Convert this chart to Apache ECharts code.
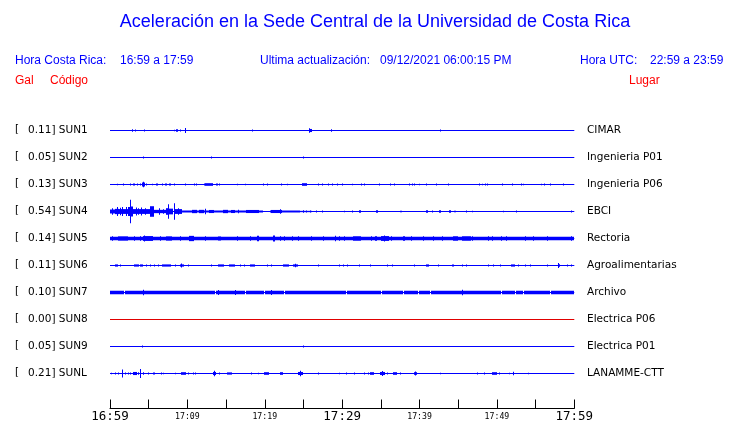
<!DOCTYPE html>
<html><head><meta charset="utf-8">
<script src="https://cdn.jsdelivr.net/npm/echarts@6/dist/echarts.min.js"></script>
<style>html,body{margin:0;padding:0;background:#fff}#c{width:740px;height:423px}</style>
</head><body><div id="c"></div>
<script>
// ---------- DATA ----------
const codes = ['SUN1','SUN2','SUN3','SUN4','SUN5','SUN6','SUN7','SUN8','SUN9','SUNL'];
const maxGal = ['0.11','0.05','0.13','0.54','0.14','0.11','0.10','0.00','0.05','0.21'];
const places = ['CIMAR','Ingenieria P01','Ingenieria P06','EBCI','Rectoria','Agroalimentarias','Archivo','Electrica P06','Electrica P01','LANAMME-CTT'];
const tickLabels = ['16:59','','17:09','','17:19','','17:29','','17:39','','17:49','','17:59'];
// events: [start minute, end minute, half-amplitude in Gal]  (minutes after 16:59)
const sun1 = [[2.9,2.9,0.06],[3.3,3.3,0.05],[4.4,4.4,0.05],[8.3,8.3,0.03],[8.6,8.8,0.06],[9.1,9.1,0.05],[9.7,9.7,0.11],[18.4,18.4,0.04],[25.8,26.1,0.07],[25.8,25.8,0.1],[28.6,28.6,0.06],[42.7,42.7,0.05]];
const sun2 = [[4.3,4.45,0.05],[13.1,13.1,0.05],[25.0,25.0,0.05]];
const sun3 = [[1.0,1.0,0.03],[1.7,1.8,0.04],[2.7,2.7,0.04],[3.05,3.2,0.05],[3.5,3.5,0.04],[3.9,3.9,0.04],[4.2,4.5,0.09],[4.3,4.3,0.13],[4.7,4.7,0.05],[5.5,5.5,0.03],[6.0,6.15,0.04],[6.8,6.8,0.04],[7.2,7.35,0.05],[7.75,7.85,0.05],[8.3,8.3,0.05],[9.7,9.7,0.04],[10.9,10.9,0.05],[11.2,11.2,0.05],[12.2,12.2,0.04],[12.4,13.3,0.06],[13.8,13.95,0.05],[14.1,14.1,0.05],[16.5,16.5,0.03],[17.5,17.5,0.03],[19.8,19.8,0.04],[20.3,20.3,0.05],[22.1,22.1,0.04],[22.9,22.9,0.03],[24.9,25.4,0.06],[26.9,26.9,0.04],[27.5,27.5,0.05],[28.2,28.2,0.04],[28.8,28.8,0.04],[29.4,29.4,0.04],[30.0,30.0,0.04],[31.3,31.3,0.03],[32.5,32.5,0.05],[32.9,32.9,0.05],[34.8,34.8,0.04],[36.3,36.3,0.05],[36.8,36.8,0.05],[38.7,38.7,0.05],[39.1,39.1,0.05],[39.4,39.4,0.05],[40.0,40.0,0.03],[40.9,40.9,0.05],[42.2,42.2,0.04],[43.8,43.8,0.05],[47.8,47.8,0.04],[48.1,48.1,0.03],[48.5,48.5,0.05],[48.8,48.8,0.05],[50.7,50.7,0.05],[52.0,52.0,0.05],[53.2,53.2,0.05],[53.4,53.4,0.03],[55.8,55.8,0.03],[56.2,56.2,0.04],[56.9,56.9,0.04],[58.6,58.6,0.05]];
const sun4 = [[0,0.65,0.09],[0.3,0.3,0.15],[0.65,1.1,0.12],[0.95,0.95,0.21],[1.1,2.4,0.11],[1.3,1.3,0.17],[1.64,1.64,0.2],[2.07,2.07,0.2],[2.45,2.55,0.2],[2.65,2.65,0.53],[2.8,3.0,0.23],[3.0,5.17,0.11],[3.36,3.36,0.18],[3.7,3.7,0.15],[4.1,4.1,0.18],[4.6,4.6,0.15],[5.17,5.69,0.24],[5.69,7.33,0.075],[6.38,6.38,0.15],[6.9,6.9,0.1],[7.33,7.67,0.15],[7.54,7.54,0.33],[7.67,8.19,0.13],[8.28,8.28,0.38],[8.4,9.27,0.11],[8.9,8.9,0.15],[9.27,19.8,0.045],[10.6,11.2,0.075],[11.6,12.1,0.075],[12.4,12.4,0.12],[12.9,13.4,0.07],[14.7,15.3,0.075],[15.7,16.2,0.07],[16.6,16.6,0.08],[17.7,19.2,0.07],[20.7,24.6,0.045],[20.9,22.2,0.07],[22.0,22.0,0.1],[24.6,26.1,0.03],[25.0,25.0,0.06],[25.4,25.4,0.05],[25.9,25.9,0.05],[26.7,26.7,0.04],[27.4,27.4,0.04],[30.3,30.3,0.03],[31.3,31.3,0.04],[32.3,32.5,0.06],[34.4,34.6,0.06],[37.6,37.6,0.03],[37.7,37.7,0.03],[40.9,41.1,0.06],[41.7,41.7,0.04],[42.6,42.8,0.06],[43.9,44.1,0.06],[44.5,44.5,0.03],[44.7,44.7,0.03],[46.1,46.1,0.04],[46.9,46.9,0.03],[50.9,50.9,0.03],[52.5,52.5,0.04],[59.6,59.6,0.04]];
const sun5 = [[0,60,0.075],[0.3,0.3,0.1],[1.08,2.37,0.095],[3.2,3.2,0.1],[3.9,3.9,0.1],[4.3,5.6,0.11],[4.5,4.5,0.14],[6.5,6.5,0.1],[7.3,8.0,0.095],[9.05,9.05,0.1],[10.3,10.8,0.12],[12.3,12.3,0.1],[14.0,14.4,0.09],[16.5,16.5,0.1],[18.1,18.1,0.1],[19.0,19.2,0.12],[21.1,21.3,0.14],[22.0,22.0,0.1],[22.6,22.6,0.1],[23.6,23.6,0.1],[24.4,24.4,0.1],[26.1,26.1,0.1],[27.6,27.6,0.1],[29.1,29.1,0.12],[29.7,29.7,0.1],[30.3,30.3,0.1],[31.5,32.5,0.1],[33.8,33.8,0.1],[34.3,34.5,0.1],[35.1,36.0,0.11],[35.5,35.5,0.14],[36.4,36.4,0.1],[37.9,37.9,0.1],[38.1,38.1,0.1],[39.0,39.0,0.1],[40.5,40.5,0.1],[41.8,41.8,0.1],[43.0,43.0,0.1],[44.4,45.0,0.1],[45.6,46.6,0.1],[46.8,46.8,0.1],[48.9,48.9,0.1],[49.4,49.4,0.1],[50.6,50.6,0.1],[51.3,51.3,0.1],[53.7,53.7,0.1],[54.7,54.7,0.1],[56.5,56.5,0.1],[59.7,59.7,0.1]];
const sun6 = [[0.65,1.0,0.05],[1.3,1.3,0.05],[3.2,3.7,0.05],[3.9,4.3,0.05],[4.7,4.7,0.05],[5.2,5.2,0.05],[5.7,5.7,0.05],[6.25,6.25,0.05],[6.8,7.9,0.05],[8.4,8.4,0.05],[9.05,9.5,0.05],[9.2,9.2,0.09],[10.1,10.1,0.05],[13.1,13.1,0.04],[14.0,14.7,0.05],[15.4,16.2,0.05],[16.8,16.8,0.05],[17.4,17.4,0.04],[18.1,18.75,0.05],[20.3,20.3,0.05],[20.9,20.9,0.05],[22.4,23.1,0.05],[23.7,24.3,0.05],[24.0,24.0,0.08],[26.9,26.9,0.05],[29.7,29.7,0.04],[30.2,30.2,0.05],[30.7,30.7,0.04],[32.3,32.3,0.05],[33.6,33.6,0.05],[35.9,35.9,0.05],[36.5,36.5,0.04],[39.4,39.4,0.04],[40.9,41.2,0.05],[42.5,42.5,0.04],[44.2,44.4,0.05],[45.5,45.5,0.05],[46.1,46.1,0.04],[48.9,48.9,0.05],[49.6,49.6,0.05],[50.4,50.4,0.05],[51.9,52.4,0.05],[52.8,52.8,0.05],[53.7,53.7,0.05],[54.3,54.3,0.05],[56.5,56.5,0.04],[57.9,58.1,0.06],[58.0,58.0,0.11],[59.1,59.1,0.05],[59.6,59.6,0.05]];
const sun7 = [[0,1.85,0.08],[2.0,13.55,0.08],[13.7,17.45,0.08],[17.6,19.95,0.08],[20.1,22.55,0.08],[22.7,25.15,0.08],[25.3,28.65,0.08],[28.8,30.55,0.08],[30.7,35.05,0.08],[35.2,37.85,0.08],[38.0,39.85,0.08],[40.0,41.35,0.08],[41.5,43.25,0.08],[43.4,44.95,0.08],[45.1,46.75,0.08],[46.9,50.55,0.08],[50.7,52.35,0.08],[52.5,53.35,0.08],[53.5,55.15,0.08],[55.3,56.85,0.08],[57.0,59.9,0.08],[4.3,4.3,0.12],[14.0,14.0,0.11],[16.2,16.2,0.11],[20.9,20.9,0.11],[45.6,45.6,0.12]];
const sun8 = [];
const sun9 = [[4.15,4.3,0.05],[25.0,25.0,0.05]];
const sunl = [[0.2,0.2,0.03],[0.7,0.7,0.04],[1.1,1.1,0.05],[1.6,1.6,0.18],[2.0,2.0,0.05],[2.4,2.4,0.04],[2.7,2.7,0.05],[3.0,3.45,0.07],[3.7,3.7,0.06],[4.0,4.0,0.21],[4.3,4.3,0.06],[5.0,5.0,0.04],[5.6,5.8,0.05],[6.6,6.6,0.04],[6.9,6.9,0.03],[8.4,8.4,0.03],[9.2,9.8,0.06],[10.1,10.1,0.05],[10.8,10.8,0.04],[11.1,11.1,0.04],[13.4,13.7,0.07],[13.5,13.5,0.12],[14.2,14.2,0.04],[15.2,15.8,0.05],[18.3,18.3,0.04],[19.2,19.2,0.03],[20.0,20.5,0.06],[22.0,22.3,0.06],[24.4,25.0,0.07],[24.6,24.6,0.12],[26.9,26.9,0.05],[29.7,29.7,0.03],[30.5,30.5,0.04],[31.6,31.6,0.04],[32.9,32.9,0.04],[33.4,33.4,0.04],[33.7,34.1,0.06],[35.0,35.6,0.07],[35.2,35.2,0.11],[35.9,35.9,0.04],[36.6,37.1,0.06],[37.6,37.6,0.04],[39.4,39.7,0.06],[39.5,39.5,0.09],[42.7,42.7,0.03],[47.5,47.5,0.04],[48.4,48.4,0.05],[49.4,50.0,0.06],[50.3,50.3,0.05],[51.6,51.6,0.03],[52.2,52.2,0.08],[54.1,54.1,0.03],[57.1,57.1,0.02]];
const traces = [sun1,sun2,sun3,sun4,sun5,sun6,sun7,sun8,sun9,sunl];

// ---------- CHART ----------
const chart = echarts.init(document.getElementById('c'), null, {renderer:'canvas'});
const X0 = 110, XR = 740 - 574.3, TOP0 = 117, ROW = 27, PXG = 22;
const yr = (ROW/2)/PXG;
const grids = [], xAxes = [], yAxes = [], series = [], graphics = [];
traces.forEach((tr, i) => {
  const color = i === 7 ? '#e00000' : '#0000ff';
  grids.push({left:X0, right:XR, top:TOP0 + ROW*i, height:ROW});
  xAxes.push({type:'value', gridIndex:i, min:0, max:60, show:false});
  yAxes.push({type:'value', gridIndex:i, min:-yr, max:yr, show:false});
  series.push({type:'line', xAxisIndex:i, yAxisIndex:i, data:[[0,0],[60,0]], symbol:'none', silent:true,
    lineStyle:{color:color, width:1.2}, animation:false});
  series.push({type:'custom', xAxisIndex:i, yAxisIndex:i, data:tr, silent:true, animation:false,
    renderItem:function(params, api){
      const p0 = api.coord([api.value(0), api.value(2)]);
      const p1 = api.coord([api.value(1), -api.value(2)]);
      const x = Math.floor(p0[0]);
      const w = Math.max(1, Math.round(p1[0]) - x);
      return {type:'rect', shape:{x:x, y:p0[1], width:w, height:p1[1]-p0[1]}, style:{fill:color}};
    }});
  const yc = TOP0 + ROW*i + ROW/2;
  const tf = {fontFamily:'DejaVu Sans', fontSize:10.5, fill:'#000', verticalAlign:'middle'};
  graphics.push({type:'text', left:15, top:yc-7, style:Object.assign({text:'['}, tf, {verticalAlign:'top'})});
  graphics.push({type:'text', x:28, y:yc, style:Object.assign({text:maxGal[i]+'] '+codes[i]}, tf)});
  graphics.push({type:'text', x:587, y:yc, style:Object.assign({text:places[i]}, tf)});
});
// time axis
grids.push({left:X0, right:XR, top:400, height:9});
xAxes.push({type:'value', gridIndex:10, min:0, max:60, interval:5, position:'bottom',
  axisLine:{show:true, lineStyle:{color:'#000', width:1}},
  axisTick:{show:true, inside:true, length:9, lineStyle:{color:'#000', width:1}},
  splitLine:{show:false},
  axisLabel:{show:true, margin:1, showMinLabel:true, showMaxLabel:true,
    formatter:function(v){ const k = Math.round(v/5); const t = tickLabels[k] || ''; if(!t) return ''; return (k%6===0) ? '{b|'+t+'}' : '{s|'+t+'}'; },
    rich:{b:{fontFamily:'DejaVu Sans Mono', fontSize:12.5, color:'#000', lineHeight:14},
          s:{fontFamily:'DejaVu Sans Mono', fontSize:8.2, color:'#000', lineHeight:14}}}});
yAxes.push({type:'value', gridIndex:10, show:false, min:0, max:1});

const hf = {fontFamily:'Liberation Sans', fontSize:12, fill:'#0000ff', verticalAlign:'middle'};
const rf = {fontFamily:'Liberation Sans', fontSize:12, fill:'#ff0000', verticalAlign:'middle'};
graphics.push({type:'text', x:375, y:22, style:{text:'Aceleración en la Sede Central de la Universidad de Costa Rica', fontFamily:'Liberation Sans', fontSize:18, fill:'#0000ff', align:'center', verticalAlign:'middle'}});
graphics.push({type:'text', x:15, y:61, style:Object.assign({text:'Hora Costa Rica:'}, hf)});
graphics.push({type:'text', x:120, y:61, style:Object.assign({text:'16:59 a 17:59'}, hf)});
graphics.push({type:'text', x:260, y:61, style:Object.assign({text:'Ultima actualización:'}, hf)});
graphics.push({type:'text', x:380, y:61, style:Object.assign({text:'09/12/2021 06:00:15 PM'}, hf)});
graphics.push({type:'text', x:580, y:61, style:Object.assign({text:'Hora UTC:'}, hf)});
graphics.push({type:'text', x:650, y:61, style:Object.assign({text:'22:59 a 23:59'}, hf)});
graphics.push({type:'text', x:15, y:81, style:Object.assign({text:'Gal'}, rf)});
graphics.push({type:'text', x:50, y:81, style:Object.assign({text:'Código'}, rf)});
graphics.push({type:'text', x:629, y:81, style:Object.assign({text:'Lugar'}, rf)});

chart.setOption({animation:false, grid:grids, xAxis:xAxes, yAxis:yAxes, series:series, graphic:graphics});
</script></body></html>
